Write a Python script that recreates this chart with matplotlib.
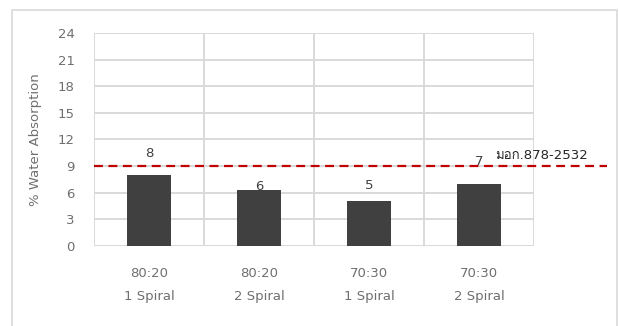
import matplotlib
matplotlib.use("Agg")
import matplotlib.pyplot as plt
from matplotlib import font_manager
from matplotlib.ft2font import FT2Font
from matplotlib.patches import Rectangle

# data
categories = ["80:20\n1 Spiral", "80:20\n2 Spiral", "70:30\n1 Spiral", "70:30\n2 Spiral"]
values = [7.95, 6.35, 5.1, 6.95]
labels = ["8", "6", "5", "7"]
label_offsets = [2.5, 0.35, 1.7, 2.6]  # where Excel put the data labels
standard_value = 9.0
standard_text = "มอก.878-2532"
yticks = [0, 3, 6, 9, 12, 15, 18, 21, 24]

# find a font that can draw Thai
thai_font = None
for f in font_manager.fontManager.ttflist:
    try:
        if 0x0E21 in FT2Font(f.fname).get_charmap():
            thai_font = f.name
            break
    except Exception:
        pass
families = ["DejaVu Sans"] + ([thai_font] if thai_font else [])
plt.rcParams["font.family"] = families

fig = plt.figure(figsize=(6.19, 3.26), dpi=100)
ax = fig.add_axes([0.1519, 0.2454, 0.7108, 0.6534])

text_color = "#6f6f6f"
grid_color = "#d9d9d9"

x = range(len(values))
ax.bar(x, values, width=0.4, color="#404040", zorder=3)

for i, v in enumerate(values):
    ax.text(i, v + label_offsets[i], labels[i], ha="center", va="center",
            fontsize=9.5, color="#404040", zorder=4)

ax.set_xlim(-0.5, len(values) - 0.5)
ax.set_ylim(0, 24)
ax.set_yticks(yticks)
ax.set_yticklabels([str(t) for t in yticks])
ax.set_xticks([i + 0.5 for i in range(-1, len(values))], minor=False)
ax.set_xticklabels([""] * (len(values) + 1))
ax.set_xticks(list(x), minor=True)
ax.set_xticklabels(categories, minor=True, linespacing=2.0)

ax.tick_params(axis="both", which="both", length=0, colors=text_color, labelsize=9.5)
ax.tick_params(axis="y", pad=14)
ax.tick_params(axis="x", which="minor", pad=15)

ax.grid(True, which="major", color=grid_color, linewidth=1.4, zorder=0)
for s in ax.spines.values():
    s.set_visible(False)
ax.axhline(0, color=grid_color, linewidth=1.4, zorder=1)

ax.set_ylabel("% Water Absorption", color=text_color, fontsize=9.5, labelpad=11)

# standard line reaching past the plot area
ax.plot([-0.5, 4.16], [standard_value, standard_value], color="#c00000",
        linestyle=(0, (4, 2.5)), linewidth=1.6, zorder=5, clip_on=False)
ax.text(3.15, standard_value + 1.15, standard_text, ha="left", va="center",
        fontsize=9.5, color="#262626", zorder=6)

# outer chart border
fig.patches.append(Rectangle((12 / 619, -0.01), (617 - 12) / 619, 1 - 10 / 326 + 0.01,
                             transform=fig.transFigure, fill=False,
                             edgecolor="#d9d9d9", linewidth=1.2))

fig.savefig("out.png", dpi=100)
